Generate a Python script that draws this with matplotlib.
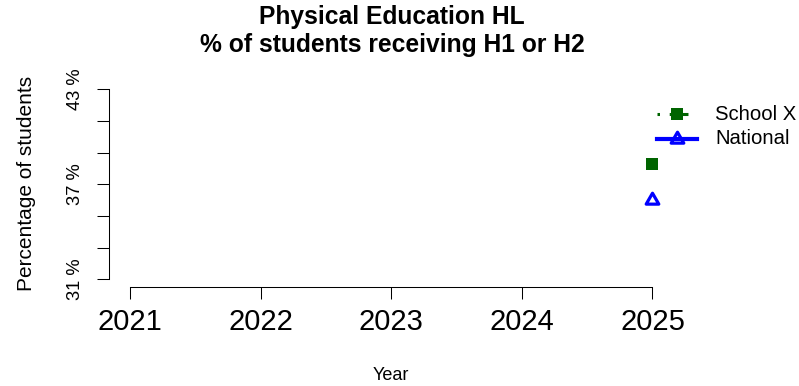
import matplotlib
matplotlib.use("Agg")
import matplotlib.pyplot as plt
from matplotlib.lines import Line2D
from matplotlib.path import Path

plt.rcParams['font.family'] = ['Liberation Sans', 'DejaVu Sans']
plt.rcParams['lines.scale_dashes'] = False

# ---- data ----
years = [2021, 2022, 2023, 2024, 2025]
year_labels = ["2021", "2022", "2023", "2024", "2025"]
school_years = [2025]
school_values = [38.3]
national_years = [2025]
national_values = [36.0]
y_ticks = [31, 33, 35, 37, 39, 41, 43]
y_labels = ["31 %", "", "", "37 %", "", "", "43 %"]
series_names = ["School X", "National"]
title_lines = ["Physical Education HL", "% of students receiving H1 or H2"]

W, H = 799, 386
fig = plt.figure(figsize=(W / 100, H / 100), dpi=100)

def fx(x):
    return x / W

def fy(y):
    return 1 - y / H

left, right, top, bottom = 109, 673.4, 81.7, 287
ax = fig.add_axes([fx(left), fy(bottom), (right - left) / W, (bottom - top) / H])

green = "#006400"
blue = "#0000FF"

tri = Path([(0, 1), (-0.866, -0.5), (0.866, -0.5), (0, 1)],
           [Path.MOVETO, Path.LINETO, Path.LINETO, Path.CLOSEPOLY])

ax.plot(school_years, school_values, linestyle=":", color=green, marker="s",
        markersize=8.6, markeredgewidth=0, markerfacecolor=green, clip_on=False)
ax.plot(national_years, national_values, linestyle="-", color=blue, lw=3,
        marker=tri, markersize=10.5, markerfacecolor="none", markeredgecolor=blue,
        markeredgewidth=2.3, clip_on=False)

ax.set_xlim(2020.84, 2025.16)
ax.set_ylim(30.52, 43.48)

for s in ["top", "right"]:
    ax.spines[s].set_visible(False)
ax.spines["left"].set_bounds(31, 43)
ax.spines["bottom"].set_bounds(2021, 2025)
for s in ["left", "bottom"]:
    ax.spines[s].set_linewidth(0.75)
    ax.spines[s].set_color("black")

ax.set_xticks(years)
ax.set_xticklabels(year_labels, fontsize=21)
ax.set_yticks(y_ticks)
ax.set_yticklabels(y_labels, fontsize=13.2, rotation=90, va="center")
ax.tick_params(axis="both", length=8.6, width=0.75, color="black")
ax.tick_params(axis="y", pad=9.5)
ax.tick_params(axis="x", pad=6.5)

# axis titles
fig.text(fx(27), fy(183), "Percentage of students", rotation=90,
         ha="center", va="center", fontsize=15)
fig.text(fx(391), fy(380), "Year", ha="center", va="baseline", fontsize=13)

# title
fig.text(fx(392), fy(24), title_lines[0], ha="center", va="baseline",
         fontsize=17.7, fontweight="bold")
fig.text(fx(392), fy(52), title_lines[1], ha="center", va="baseline",
         fontsize=17.7, fontweight="bold")

# legend (drawn manually outside plot region)
lx0, lx1, lxm = 657, 697, 677
ly1, ly2 = 114, 139
fig.add_artist(Line2D([fx(lx0), fx(lx1)], [fy(ly1), fy(ly1)], color=green, lw=2.2,
                      dashes=[1.8, 7.0, 13.5, 20]))
fig.add_artist(Line2D([fx(lxm)], [fy(ly1)], marker="s", markersize=8.6,
                      markeredgewidth=0, markerfacecolor=green, linestyle="none"))
fig.add_artist(Line2D([fx(lx0), fx(lx1)], [fy(ly2), fy(ly2)], color=blue, lw=3))
fig.add_artist(Line2D([fx(lxm)], [fy(ly2)], marker=tri, markersize=10.5,
                      markerfacecolor="none", markeredgecolor=blue,
                      markeredgewidth=2.3, linestyle="none"))
fig.text(fx(715), fy(ly1), series_names[0], ha="left", va="center", fontsize=14.6)
fig.text(fx(715), fy(ly2), series_names[1], ha="left", va="center", fontsize=14.6)

fig.savefig("out.png", dpi=100)
